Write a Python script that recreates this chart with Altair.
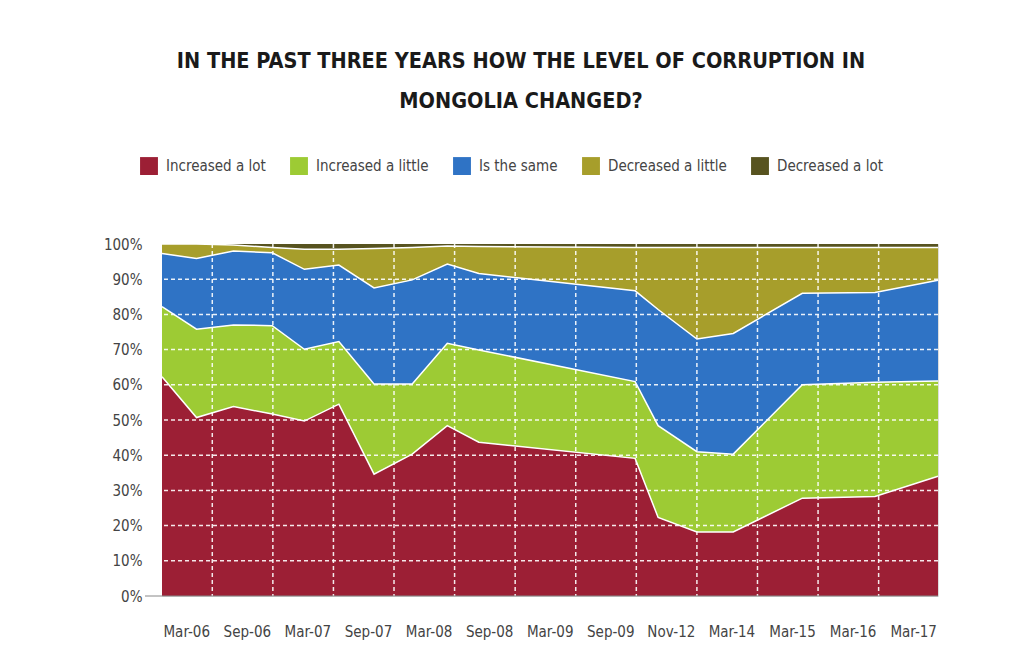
import altair as alt
import pandas as pd

# ---- data ----
series = ["Increased a lot", "Increased a little", "Is the same",
          "Decreased a little", "Decreased a lot"]
colors = ["#9C1F35", "#9DCB34", "#2F73C5", "#A79E2B", "#57531F"]

tick_labels = ["Mar-06", "Sep-06", "Mar-07", "Sep-07", "Mar-08", "Sep-08",
               "Mar-09", "Sep-09", "Nov-12", "Mar-14", "Mar-15", "Mar-16", "Mar-17"]

# survey positions along the axis, in tick-label units (Mar-06 = 0 ... Mar-17 = 12)
x_pos = [-0.40, 0.17, 0.78, 1.42, 1.95, 2.52, 3.10, 3.73, 4.31, 4.83,
         7.41, 7.79, 8.43, 9.03, 10.17, 11.37, 12.41]

inc_lot = [62.3, 50.7, 53.8, 51.7, 49.7, 54.5, 34.6, 40.3, 48.4, 43.7,
           39.1, 22.3, 18.2, 18.2, 27.8, 28.3, 34.0]
inc_little = [19.9, 25.1, 23.2, 25.1, 20.4, 17.8, 25.6, 19.9, 23.4, 26.2,
              21.8, 26.1, 22.8, 22.1, 32.2, 32.4, 27.1]
same = [15.1, 20.1, 21.0, 20.7, 22.7, 21.7, 27.3, 29.6, 22.5, 21.7,
        25.8, 33.0, 32.0, 34.3, 26.0, 25.5, 28.6]
dec_little = [2.7, 4.1, 1.7, 1.5, 5.7, 4.5, 11.2, 9.2, 5.1, 7.7,
              12.3, 17.6, 26.0, 24.4, 13.0, 12.8, 9.3]
dec_lot = [0.0, 0.0, 0.3, 1.0, 1.5, 1.5, 1.3, 1.0, 0.6, 0.7,
           1.0, 1.0, 1.0, 1.0, 1.0, 1.0, 1.0]

y_ticks = [0, 10, 20, 30, 40, 50, 60, 70, 80, 90, 100]
y_grid = [10, 20, 30, 40, 50, 60, 70, 80, 90]
x_grid = [0.43 + i for i in range(12)]

# ---- build table ----
rows = []
for k, (name, vals) in enumerate(zip(series, [inc_lot, inc_little, same, dec_little, dec_lot])):
    for x, v in zip(x_pos, vals):
        rows.append({"x": x, "v": v, "series": name, "k": k})
df = pd.DataFrame(rows)

FONT = "'Liberation Sans Narrow', 'DejaVu Sans Condensed', 'Roboto Condensed', Roboto, sans-serif"
W, H = 776, 352

xscale = alt.Scale(domain=[x_pos[0], x_pos[-1]], nice=False, zero=False)
yscale = alt.Scale(domain=[0, 100], nice=False)

label_expr = "[" + ",".join("'" + t + "'" for t in tick_labels) + "][datum.value]"

base = alt.Chart(df).transform_stack(
    stack="v", groupby=["x"], as_=["y0", "y1"], sort=[alt.SortField("k", order="ascending")]
)

areas = base.mark_area().encode(
    x=alt.X("x:Q", scale=xscale,
            axis=alt.Axis(values=list(range(len(tick_labels))), labelExpr=label_expr,
                          title=None, grid=False, domain=False, ticks=False,
                          labelFont=FONT, labelFontSize=15, labelColor="#444444",
                          labelPadding=28, labelOverlap=False)),
    y=alt.Y("y1:Q", scale=yscale,
            axis=alt.Axis(values=y_ticks, labelExpr="datum.value + '%'",
                          title=None, grid=False, domain=False, ticks=False,
                          labelFont=FONT, labelFontSize=15, labelColor="#444444",
                          labelPadding=20, labelOverlap=False)),
    y2="y0:Q",
    color=alt.Color("series:N", scale=alt.Scale(domain=series, range=colors),
                    legend=alt.Legend(title=None, orient="none", legendX=-22, legendY=-87,
                                      direction="horizontal", symbolType="square",
                                      symbolSize=320, symbolStrokeWidth=0,
                                      labelFont=FONT, labelFontSize=15,
                                      labelColor="#444444", labelOffset=8,
                                      columnPadding=24)),
    order=alt.Order("k:Q"),
)

lines = base.transform_filter("datum.k < 4").mark_line(
    color="white", strokeWidth=1.5
).encode(
    x=alt.X("x:Q", scale=xscale, axis=None),
    y=alt.Y("y1:Q", scale=yscale, axis=None),
    detail="series:N",
)

hgrid = alt.Chart(pd.DataFrame({"g": y_grid})).mark_rule(
    color="white", strokeDash=[4, 3], strokeWidth=1.5, opacity=0.9
).encode(y=alt.Y("g:Q", scale=yscale, axis=None))

vgrid = alt.Chart(pd.DataFrame({"g": x_grid})).mark_rule(
    color="white", strokeDash=[4, 3], strokeWidth=1.5, opacity=0.9
).encode(x=alt.X("g:Q", scale=xscale, axis=None))

baseline = alt.Chart(pd.DataFrame({"g": [0]})).mark_rule(
    color="#888888", strokeWidth=1
).encode(x=alt.value(-17), x2=alt.value(W), y=alt.Y("g:Q", scale=yscale, axis=None))

chart = alt.layer(areas, lines, hgrid, vgrid, baseline).resolve_axis(
    x="independent", y="independent"
).properties(
    width=W, height=H,
    title=alt.TitleParams(
        text=["IN THE PAST THREE YEARS HOW THE LEVEL OF CORRUPTION IN",
              "MONGOLIA CHANGED?"],
        font=FONT, fontSize=21.5, fontWeight="bold", color="#1a1a1a",
        lineHeight=40, anchor="middle", dx=-29, offset=45,
    ),
    autosize=alt.AutoSizeParams(type="none"),
    padding={"left": 154, "top": 236, "right": 87, "bottom": 60},
).configure_view(stroke=None).configure(background="white")

chart.save("out.html", embed_options={"renderer": "svg", "actions": False})
